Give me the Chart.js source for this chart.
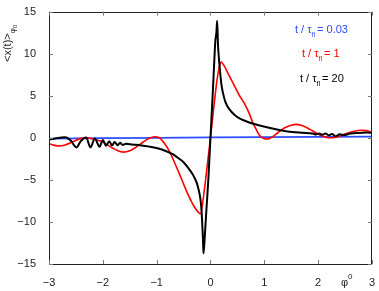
<!DOCTYPE html>
<html>
<head>
<meta charset="utf-8">
<script src="https://cdn.jsdelivr.net/npm/chart.js@4/dist/chart.umd.min.js"></script>
<style>
  html, body { margin: 0; padding: 0; background: #fff; }
  #wrap { width: 379px; height: 291px; position: relative; }
</style>
</head>
<body>
<div id="wrap"><canvas id="myChart"></canvas></div>
<script>
// values
const blueX = [-3, -2, -1, 0, 1, 2, 3];
const blueY = [-0.1, -0.05, 0, 0.05, 0.08, 0.12, 0.15];

const redX = [-3.0, -2.9, -2.8, -2.7, -2.55, -2.42, -2.3, -2.18, -2.0, -1.85, -1.72, -1.62, -1.5, -1.38, -1.25, -1.15, -1.04, -0.95, -0.85, -0.76, -0.67, -0.57, -0.48, -0.39, -0.3, -0.22, -0.185, -0.12, -0.06, 0.0, 0.06, 0.12, 0.17, 0.2, 0.25, 0.35, 0.45, 0.54, 0.63, 0.72, 0.78, 0.85, 0.91, 0.98, 1.06, 1.15, 1.25, 1.38, 1.5, 1.59, 1.7, 1.85, 2.0, 2.1, 2.2, 2.35, 2.5, 2.65, 2.8, 2.9, 3.0];
const redY = [-0.7, -0.9, -0.97, -0.85, -0.45, -0.1, 0.0, -0.15, -0.5, -1.1, -1.55, -1.7, -1.55, -1.1, -0.5, -0.1, 0.12, 0.0, -0.7, -1.64, -2.9, -4.4, -5.8, -7.1, -8.2, -8.9, -9.06, -6.5, -3.3, 0, 3.5, 6.8, 8.6, 9.0, 8.6, 7.35, 6.1, 5.0, 4.1, 2.9, 1.9, 1.0, 0.3, -0.05, -0.15, 0.1, 0.6, 1.2, 1.5, 1.6, 1.45, 1.0, 0.45, 0.15, 0.0, 0.1, 0.45, 0.75, 0.9, 0.85, 0.65];

const blackX = [-3.0, -2.9, -2.8, -2.7, -2.6, -2.49, -2.41, -2.31, -2.23, -2.15, -2.06, -2.0, -1.94, -1.88, -1.83, -1.78, -1.73, -1.68, -1.63, -1.57, -1.45, -1.31, -1.13, -0.95, -0.82, -0.7, -0.6, -0.5, -0.4, -0.3, -0.23, -0.17, -0.14, -0.13, -0.11, -0.08, -0.04, 0.0, 0.04, 0.07, 0.09, 0.11, 0.124, 0.14, 0.17, 0.2, 0.23, 0.28, 0.35, 0.45, 0.54, 0.65, 0.78, 0.95, 1.15, 1.35, 1.52, 1.7, 1.9, 1.96, 2.02, 2.08, 2.14, 2.2, 2.26, 2.33, 2.4, 2.48, 2.6, 2.75, 2.9, 3.0];
const blackY = [-0.2, -0.1, 0.0, 0.08, -0.3, -1.14, -0.4, 0.04, -1.14, -0.08, -1.05, -0.27, -0.94, -0.4, -0.9, -0.5, -0.88, -0.6, -0.85, -0.7, -0.8, -0.88, -1.05, -1.3, -1.6, -1.95, -2.4, -2.9, -3.7, -4.7, -5.9, -8.3, -12.0, -13.75, -12.2, -9.0, -5.0, 0, 5.0, 9.0, 11.5, 12.5, 13.9, 11.0, 8.5, 6.5, 5.4, 4.2, 3.4, 2.7, 2.3, 2.0, 1.7, 1.4, 1.1, 0.85, 0.7, 0.6, 0.5, 0.4, 0.52, 0.35, 0.5, 0.3, 0.45, 0.18, 0.42, 0.32, 0.5, 0.58, 0.62, 0.6];

const xTicks = [-3, -2, -1, 0, 1, 2, 3];
const yTicks = [-15, -10, -5, 0, 5, 10, 15];

const legendLabels = ['0.03', '1', '20'];
const blueColor = '#2d4dff';
const redColor = '#ff0000';
const blackColor = '#000000';

function toPoints(xs, ys) {
    return xs.map((x, i) => ({ x: x, y: ys[i] }));
}

function minusSign(v) {
    return String(v).replace('-', '\u2212');
}

const fontFamily = '"Liberation Sans", Arial, Helvetica, sans-serif';

// box, inward ticks and the texts drawn on top
const framePlugin = {
    id: 'frame',
    afterDraw(chart) {
        const ctx = chart.ctx;
        const a = chart.chartArea;
        const xs = chart.scales.x;
        const ys = chart.scales.y;
        ctx.save();
        ctx.strokeStyle = '#222';
        ctx.lineWidth = 1;
        ctx.strokeRect(Math.round(a.left) + 0.5, Math.round(a.top) + 0.5,
            Math.round(a.right - a.left) - 1, Math.round(a.bottom - a.top));
        ctx.strokeStyle = '#777';
        ctx.beginPath();
        xTicks.forEach(t => {
            const px = Math.round(xs.getPixelForValue(t)) + 0.5;
            ctx.moveTo(px, a.bottom); ctx.lineTo(px, a.bottom - 4);
            ctx.moveTo(px, a.top); ctx.lineTo(px, a.top + 4);
        });
        yTicks.forEach(t => {
            const py = Math.round(ys.getPixelForValue(t)) + 0.5;
            ctx.moveTo(a.left, py); ctx.lineTo(a.left + 4, py);
            ctx.moveTo(a.right, py); ctx.lineTo(a.right - 4, py);
        });
        ctx.stroke();

        // legend-like texts
        const entries = [
            { color: blueColor, x: 295, y: 33, val: legendLabels[0] },
            { color: redColor, x: 302, y: 57, val: legendLabels[1] },
            { color: blackColor, x: 300, y: 82, val: legendLabels[2] }
        ];
        ctx.textBaseline = 'alphabetic';
        ctx.textAlign = 'left';
        entries.forEach(e => {
            ctx.fillStyle = e.color;
            let x = e.x;
            ctx.font = '11px ' + fontFamily;
            ctx.fillText('t / \u03c4', x, e.y);
            x += ctx.measureText('t / \u03c4').width;
            ctx.font = '7px ' + fontFamily;
            ctx.fillText('fl', x, e.y + 4);
            x += ctx.measureText('fl').width + 2;
            ctx.font = '11px ' + fontFamily;
            ctx.fillText('= ' + e.val, x, e.y);
        });

        // x title
        ctx.fillStyle = '#222';
        ctx.font = '11px ' + fontFamily;
        ctx.fillText('\u03c6', 341, 286);
        ctx.font = '8px ' + fontFamily;
        ctx.fillText('0', 348, 279);

        // y title, rotated
        ctx.translate(11, 62);
        ctx.rotate(-Math.PI / 2);
        ctx.font = '11px ' + fontFamily;
        ctx.fillText('<x(t)>', 0, 0);
        let w = ctx.measureText('<x(t)>').width;
        ctx.font = '8px ' + fontFamily;
        ctx.fillText('\u03c6', w, 4);
        w += ctx.measureText('\u03c6').width;
        ctx.font = '6px ' + fontFamily;
        ctx.fillText('0', w, 6);
        ctx.restore();
    }
};

const ctx = document.getElementById('myChart');

let chartJsData = {
    datasets: [
        {
            label: 't/tau = 20',
            data: toPoints(blackX, blackY),
            borderColor: blackColor,
            borderWidth: 2,
            cubicInterpolationMode: 'monotone',
            order: 0
        },
        {
            label: 't/tau = 1',
            data: toPoints(redX, redY),
            borderColor: redColor,
            borderWidth: 1.6,
            cubicInterpolationMode: 'monotone',
            order: 1
        },
        {
            label: 't/tau = 0.03',
            data: toPoints(blueX, blueY),
            borderColor: blueColor,
            borderWidth: 1.8,
            order: 2
        }
    ]
};

let chartJsOptions = {
    responsive: true,
    maintainAspectRatio: false,
    animation: false,
    layout: { padding: { top: 8, right: 6, left: 0, bottom: 0 } },
    elements: { point: { radius: 0 }, line: { fill: false } },
    scales: {
        x: {
            type: 'linear',
            min: -3,
            max: 3,
            afterFit: s => { s.height = 27; },
            afterBuildTicks: s => { s.ticks = xTicks.map(v => ({ value: v })); },
            grid: { display: false },
            border: { display: false },
            ticks: {
                padding: 4,
                color: '#222',
                font: { family: fontFamily, size: 11 },
                maxRotation: 0,
                callback: v => minusSign(v)
            }
        },
        y: {
            min: -15,
            max: 15,
            afterFit: s => { s.width = 49; },
            afterBuildTicks: s => { s.ticks = yTicks.map(v => ({ value: v })); },
            grid: { display: false },
            border: { display: false },
            ticks: {
                padding: 5,
                color: '#222',
                font: { family: fontFamily, size: 11 },
                callback: v => minusSign(v)
            }
        }
    },
    plugins: {
        legend: { display: false },
        tooltip: { enabled: false }
    }
};

new Chart(ctx, {
    type: 'line',
    data: chartJsData,
    options: chartJsOptions,
    plugins: [framePlugin]
});
</script>
</body>
</html>
